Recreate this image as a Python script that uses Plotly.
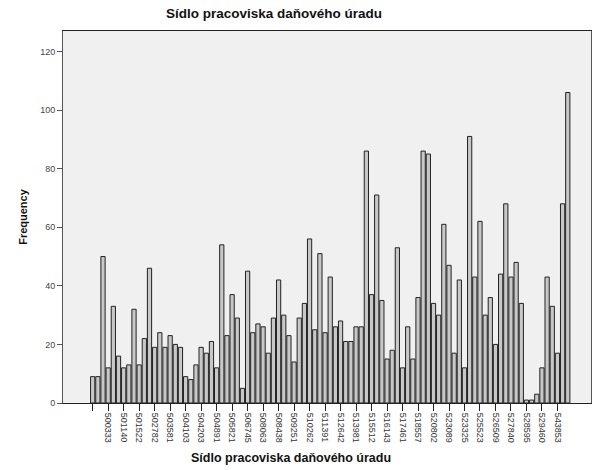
import plotly.graph_objects as go

# Frequency of each tax office seat code (categories in order of code)
frequencies = [
    9, 9, 50, 12, 33, 16, 12, 13, 32, 13,
    22, 46, 19, 24, 19, 23, 20, 19, 9, 8,
    13, 19, 17, 21, 12, 54, 23, 37, 29, 5,
    45, 24, 27, 26, 17, 29, 42, 30, 23, 14,
    29, 34, 56, 25, 51, 24, 43, 26, 28, 21,
    21, 26, 26, 86, 37, 71, 35, 15, 18, 53,
    12, 26, 15, 36, 86, 85, 34, 30, 61, 47,
    17, 42, 12, 91, 43, 62, 30, 36, 20, 44,
    68, 43, 48, 34, 1, 1, 3, 12, 43, 33,
    17, 68, 106,
]

# Every third category carries a label; the first category is blank
tick_labels = [
    "", "500333", "501140", "501522", "502782", "503581", "504103",
    "504203", "504891", "505821", "506745", "508063", "508438",
    "509251", "510262", "511391", "512642", "513981", "515512",
    "516143", "517461", "518557", "520802", "523089", "523325",
    "525523", "526509", "527840", "528595", "529460", "543853",
]

y_ticks = [0, 20, 40, 60, 80, 100, 120]

chart_title = "Sídlo pracoviska daňového úradu"
x_title = "Sídlo pracoviska daňového úradu"
y_title = "Frequency"

positions = list(range(len(frequencies)))
label_step = 3
tick_positions = positions[::label_step][:len(tick_labels)]

font_family = "Liberation Sans, Arial, sans-serif"
W, H = 592, 470

fig = go.Figure(
    go.Bar(
        x=positions,
        y=frequencies,
        marker=dict(color="#c8c8c8", line=dict(color="#222222", width=1)),
        width=0.82,
    )
)

fig.update_layout(
    width=W,
    height=H,
    margin=dict(l=63, r=1, t=31, b=67),
    paper_bgcolor="white",
    plot_bgcolor="#f0f0f0",
    showlegend=False,
    font=dict(family=font_family, color="#222222"),
    annotations=[
        dict(
            text=f"<b>{chart_title}</b>",
            xref="paper", yref="paper",
            x=(274 - 63) / (W - 64), y=1 + (31 - 13) / (H - 98),
            xanchor="center", yanchor="middle",
            showarrow=False,
            font=dict(size=13.5, color="#111111"),
        ),
        dict(
            text=f"<b>{x_title}</b>",
            xref="paper", yref="paper",
            x=(291 - 63) / (W - 64), y=-(458 - 403) / (H - 98),
            xanchor="center", yanchor="middle",
            showarrow=False,
            font=dict(size=12.5, color="#111111"),
        ),
    ],
)

fig.update_xaxes(
    range=[-5.75, 96.5],
    tickmode="array",
    tickvals=tick_positions,
    ticktext=tick_labels,
    tickangle=90,
    ticks="outside",
    ticklen=7,
    tickcolor="#222222",
    tickfont=dict(size=9, color="#333333"),
    showline=True,
    linecolor="#222222",
    linewidth=1,
    mirror=True,
    showgrid=False,
    zeroline=False,
)

fig.update_yaxes(
    range=[0, 127],
    tickmode="array",
    tickvals=y_ticks,
    ticks="outside",
    ticklen=5,
    tickcolor="#555555",
    tickfont=dict(size=9, color="#444444"),
    showline=True,
    linecolor="#555555",
    linewidth=1,
    mirror=True,
    showgrid=False,
    zeroline=False,
    title=dict(
        text=f"<b>{y_title}</b>",
        font=dict(size=11, color="#111111"),
        standoff=10,
    ),
)

fig.write_html("out.html")
